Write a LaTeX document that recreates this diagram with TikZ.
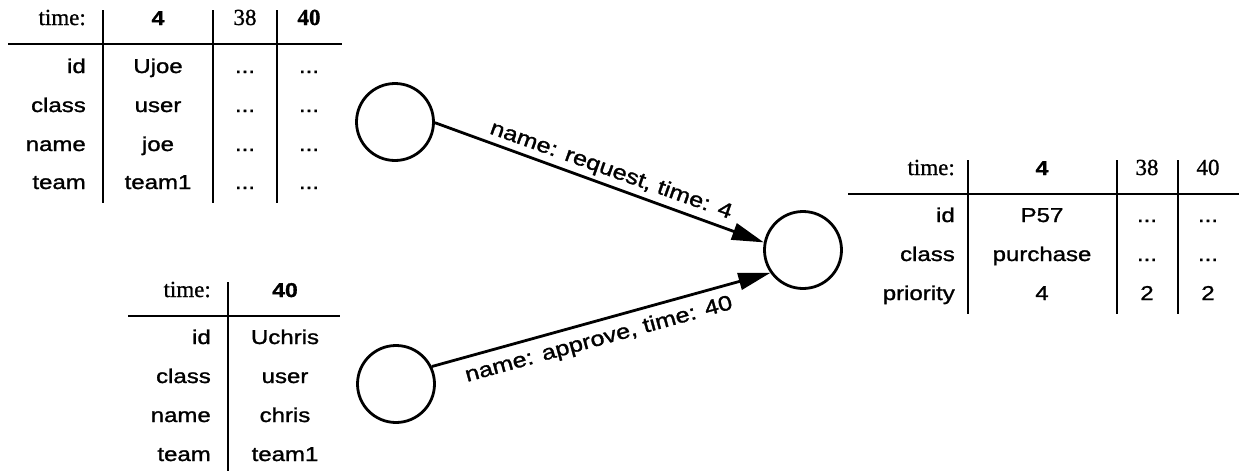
\documentclass[tikz,border=0pt]{standalone}
\usepackage{fontspec}
\setmainfont{Liberation Serif}
\newfontfamily\wsans[FakeStretch=1.2,FakeBold=1.3,BoldFont={Liberation Sans Bold},BoldFeatures={FakeStretch=1.15}]{Liberation Sans}
\newfontfamily\wser[FakeBold=0.9,BoldFont={Liberation Serif Bold}]{Liberation Serif}
\usetikzlibrary{arrows.meta}
\newcommand{\cellfont}{\wsans\fontsize{20}{24}\selectfont}
\newcommand{\edgefont}{\wsans\fontsize{21}{25}\selectfont}
\newcommand{\serfont}{\wser\fontsize{23}{27}\selectfont}
\tikzset{
  tline/.style={line width=2pt},
  lbl/.style={anchor=base east, inner sep=0pt, font=\cellfont},
  val/.style={anchor=base, inner sep=0pt, font=\cellfont},
  hdr/.style={anchor=base, inner sep=0pt, font=\serfont},
  hdrl/.style={anchor=base east, inner sep=0pt, font=\serfont},
  bhdr/.style={anchor=base, inner sep=0pt, font=\cellfont\bfseries},
  bser/.style={anchor=base, inner sep=0pt, font=\serfont\bfseries},
  state/.style={circle, draw, line width=2.8pt, minimum size=77pt, inner sep=0pt},
  conn/.style={line width=2.8pt, -{Triangle[length=32pt,width=17pt]}},
  elabel/.style={inner sep=0pt, font=\edgefont}
}
\begin{document}
\begin{tikzpicture}[x=1pt,y=-1pt]
\useasboundingbox (0,0) rectangle (1239,471);

% ---------- table 1 (Ujoe) ----------
\draw[tline] (8,44) -- (342,44);
\draw[tline] (103,10) -- (103,203);
\draw[tline] (213,10) -- (213,203);
\draw[tline] (277,10) -- (277,203);
\node[hdrl] (a-h0) at (86,25) {time:};
\node[bhdr] (a-h1) at (158,25) {4};
\node[hdr]  (a-h2) at (245,25) {38};
\node[bser] (a-h3) at (309,25) {40};
\node[lbl] (a-l1) at (86,73) {id};
\node[lbl] (a-l2) at (86,112) {class};
\node[lbl] (a-l3) at (86,151) {name};
\node[lbl] (a-l4) at (86,189) {team};
\node[val] (a-v1) at (158,73) {Ujoe};
\node[val] (a-v2) at (158,112) {user};
\node[val] (a-v3) at (158,151) {joe};
\node[val] (a-v4) at (158,189) {team1};
\foreach \r/\y in {1/73,2/112,3/151,4/189}{
  \node[val] (a-d\r) at (245,\y) {...};
  \node[val] (a-e\r) at (309,\y) {...};
}

% ---------- table 2 (Uchris) ----------
\draw[tline] (128,316) -- (340,316);
\draw[tline] (228,282) -- (228,471);
\node[hdrl] (b-h0) at (211,297) {time:};
\node[bhdr] (b-h1) at (285,297) {40};
\node[lbl] (b-l1) at (211,344) {id};
\node[lbl] (b-l2) at (211,383) {class};
\node[lbl] (b-l3) at (211,422) {name};
\node[lbl] (b-l4) at (211,461) {team};
\node[val] (b-v1) at (285,344) {Uchris};
\node[val] (b-v2) at (285,383) {user};
\node[val] (b-v3) at (285,422) {chris};
\node[val] (b-v4) at (285,461) {team1};

% ---------- table 3 (P57) ----------
\draw[tline] (848,194) -- (1239,194);
\draw[tline] (968,160) -- (968,314);
\draw[tline] (1117,160) -- (1117,314);
\draw[tline] (1178,160) -- (1178,314);
\node[hdrl] (c-h0) at (955,175) {time:};
\node[bhdr] (c-h1) at (1042,175) {4};
\node[hdr]  (c-h2) at (1147,175) {38};
\node[hdr]  (c-h3) at (1208,175) {40};
\node[lbl] (c-l1) at (955,222) {id};
\node[lbl] (c-l2) at (955,261) {class};
\node[lbl] (c-l3) at (955,300) {priority};
\node[val] (c-v1) at (1042,222) {P57};
\node[val] (c-v2) at (1042,261) {purchase};
\node[val] (c-v3) at (1042,300) {4};
\node[val] (c-d1) at (1147,222) {...};
\node[val] (c-d2) at (1147,261) {...};
\node[val] (c-d3) at (1147,300) {2};
\node[val] (c-e1) at (1208,222) {...};
\node[val] (c-e2) at (1208,261) {...};
\node[val] (c-e3) at (1208,300) {2};

% ---------- graph ----------
\node[state] (c1) at (395,122) {};
\node[state] (c2) at (396,384) {};
\node[state] (c3) at (803,250) {};
\draw[conn] (c1.-1.5) -- (c3.169);
\draw[conn] (c2.26) -- (c3.215);
\node[elabel, rotate=-19.6] (t1) at (611,171) {name: request, time: 4};
\node[elabel, rotate=15.4] (t2) at (599,340) {name: approve, time: 40};
\end{tikzpicture}
\end{document}
